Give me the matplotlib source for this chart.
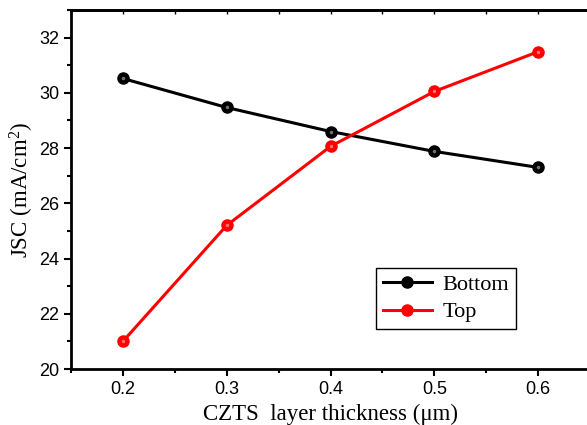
import matplotlib
matplotlib.use("Agg")
import matplotlib.pyplot as plt
from matplotlib.ticker import MultipleLocator

thickness = [0.2, 0.3, 0.4, 0.5, 0.6]
jsc_bottom = [30.52, 29.47, 28.60, 27.88, 27.30]
jsc_top = [21.0, 25.2, 28.06, 30.05, 31.49]

plt.rcParams["mathtext.fontset"] = "custom"
plt.rcParams["mathtext.rm"] = "Liberation Serif"
plt.rcParams["mathtext.it"] = "Liberation Serif:italic"

fig = plt.figure(figsize=(5.87, 4.25), dpi=100)
ax = fig.add_axes([71 / 587, 1 - 369 / 425, 519 / 587, 359 / 425])

for vals, col, name in [(jsc_bottom, "black", "Bottom"), (jsc_top, "red", "Top")]:
    ax.plot(thickness, vals, "-o", color=col, lw=2.2, ms=8, mfc=col, mec=col, label=name)
    # small highlight on the spheres
    ax.plot(thickness, vals, "o", ms=2.5, color="white", alpha=0.45, mec="none")

ax.set_xlim(0.15, 0.65)
ax.set_ylim(20, 33)
ax.xaxis.set_major_locator(MultipleLocator(0.1))
ax.xaxis.set_minor_locator(MultipleLocator(0.05))
ax.yaxis.set_major_locator(MultipleLocator(2))
ax.yaxis.set_minor_locator(MultipleLocator(1))
ax.tick_params(which="both", direction="out", width=1.5, labelsize=13)
ax.tick_params(which="major", length=5)
ax.tick_params(which="minor", length=3)
for lab in ax.get_xticklabels() + ax.get_yticklabels():
    lab.set_fontfamily("Liberation Sans")
for s in ax.spines.values():
    s.set_linewidth(2)

# small inward ticks along the top spine
top = ax.secondary_xaxis("top")
top.xaxis.set_major_locator(MultipleLocator(0.05))
top.tick_params(direction="in", length=3, width=1, labeltop=False)
top.spines["top"].set_linewidth(2)

ax.set_xlabel("CZTS  layer thickness (\u03bcm)", fontfamily="Liberation Serif", fontsize=16.5, labelpad=4)
ax.set_ylabel("JSC (mA/cm$^2$)", fontfamily="Liberation Serif", fontsize=16.5, labelpad=2)

handles, labels = ax.get_legend_handles_labels()
leg = ax.legend(handles, labels, loc="upper left", bbox_to_anchor=(376 / 587, 1 - 268 / 425),
                bbox_transform=fig.transFigure, borderaxespad=0, fancybox=False, edgecolor="black",
                framealpha=1, prop={"family": "Liberation Serif", "size": 16}, handlelength=2.2,
                borderpad=0.3, labelspacing=0.3, handletextpad=0.5)
leg.get_frame().set_linewidth(1)

fig.savefig("out.png", dpi=100)
